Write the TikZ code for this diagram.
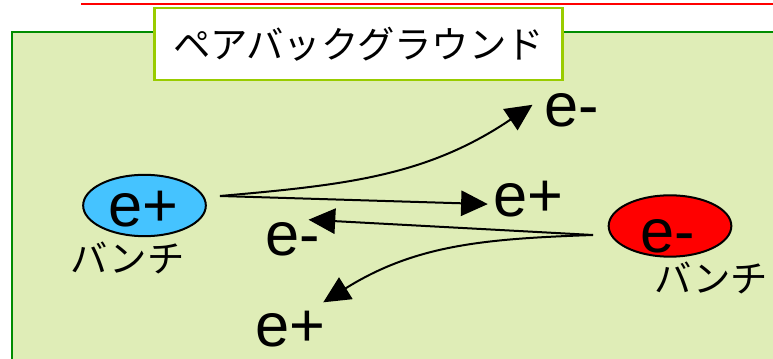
\documentclass[tikz,border=0pt]{standalone}
\usepackage{fontspec}
\setmainfont{Liberation Sans}
\newfontfamily\jpfont{Noto Sans CJK JP}
\usetikzlibrary{arrows.meta,positioning,shapes.geometric}
\definecolor{bgfill}{RGB}{223,237,183}
\definecolor{bgline}{RGB}{0,140,0}
\definecolor{titleline}{RGB}{153,204,0}
\definecolor{posc}{RGB}{69,195,255}
\definecolor{negc}{RGB}{255,0,0}
\tikzset{
  panel/.style={draw=bgline,fill=bgfill,line width=2.2pt},
  titlebox/.style={draw=titleline,fill=white,line width=1.6pt,
                   minimum width=306pt,minimum height=54pt,inner sep=0pt,
                   font=\jpfont\fontsize{28}{31}\selectfont},
  bunch/.style={ellipse,draw=black,line width=1.5pt,inner sep=0pt,
                minimum width=92pt,minimum height=46pt},
  posb/.style={bunch,fill=posc},
  negb/.style={bunch,fill=negc},
  ptcl/.style={inner sep=0pt,anchor=base,font=\fontsize{46}{50}\selectfont},
  jlab/.style={inner sep=0pt,font=\jpfont\fontsize{28}{31}\selectfont},
  pair/.style={-{Triangle[length=20pt,width=19pt]},line width=1.5pt,black},
}
\begin{document}
\begin{tikzpicture}[x=0.75pt,y=0.75pt,node distance=3pt]
  \useasboundingbox (0,0) rectangle (773,359);
  \draw[negc,line width=2.2pt] (81,355) -- (780,355);
  \draw[panel] (12,-10) rectangle (790,327);
  \node[titlebox] (title) at (358.5,315) {ペアバックグラウンド};

  % bunches
  \node[posb] (bunchP) at (144.5,153.5) {};
  \node[ptcl] (posIn) at (143,132) {e+};
  \node[jlab,below=of bunchP,xshift=-12.75pt] (labP) {バンチ};
  \node[negb] (bunchN) at (670,133) {};
  \node[ptcl] (negIn) at (668,106) {e-};
  \node[jlab,below=of bunchN,xshift=31pt] (labN) {バンチ};

  % outgoing particles
  \node[ptcl] (eminusA) at (572,232) {e-};
  \node[ptcl] (eplusA) at (528,142) {e+};
  \node[ptcl] (eminusB) at (293,103) {e-};
  \node[ptcl] (eplusB) at (290,12) {e+};

  \coordinate (posOut) at (220,163);
  \coordinate (negOut) at (593,124);
  \draw[pair] (posOut) to[out=5,in=214] ([shift={(-12,6)}]eminusA.west);
  \draw[pair] (posOut) -- ([shift={(-5,-4.5)}]eplusA.west);
  \draw[pair] (negOut) -- ([shift={(-12,3)}]eminusB.north east);
  \draw[pair] (negOut) to[out=182,in=32] ([shift={(-2,9)}]eplusB.north east);
\end{tikzpicture}
\end{document}
